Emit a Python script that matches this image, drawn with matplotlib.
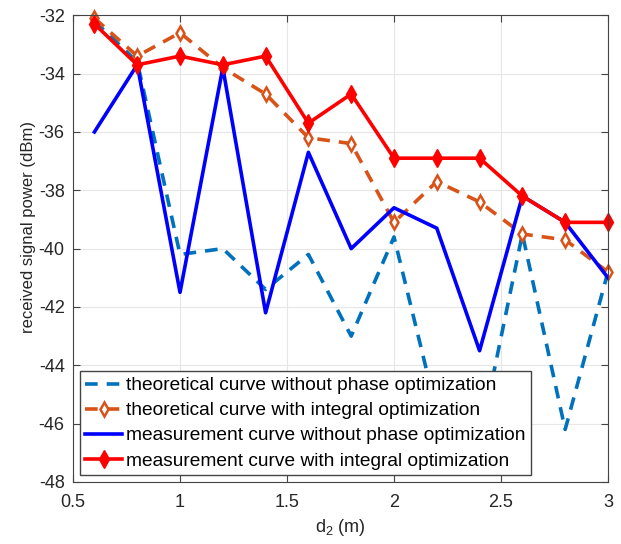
import matplotlib
matplotlib.use('Agg')
import matplotlib.pyplot as plt

plt.rcParams['font.family'] = ['Liberation Sans', 'DejaVu Sans']
plt.rcParams['axes.unicode_minus'] = False

# distance d2 (m)
d2 = [0.6, 0.8, 1.0, 1.2, 1.4, 1.6, 1.8, 2.0, 2.2, 2.4, 2.6, 2.8, 3.0]

# received signal power (dBm)
theo_no_opt = [-32.2, -33.6, -40.2, -40.0, -41.4, -40.2, -43.0, -39.6, -45.6, -46.6, -39.5, -46.2, -40.8]
theo_integral = [-32.1, -33.4, -32.6, -33.8, -34.7, -36.2, -36.4, -39.1, -37.7, -38.4, -39.5, -39.7, -40.8]
meas_no_opt = [-36.0, -33.7, -41.5, -33.8, -42.2, -36.7, -40.0, -38.6, -39.3, -43.5, -38.2, -39.1, -41.0]
meas_integral = [-32.3, -33.7, -33.4, -33.7, -33.4, -35.7, -34.7, -36.9, -36.9, -36.9, -38.2, -39.1, -39.1]

fig = plt.figure(figsize=(6.21, 5.44), dpi=100)
ax = fig.add_axes([0.1176, 0.114, 0.8614, 0.858])

lw = 2.6
ax.plot(d2, theo_no_opt, linestyle=(0, (3.5, 2.5)), color='#0072BD', linewidth=lw,
        label='theoretical curve without phase optimization')
ax.plot(d2, theo_integral, linestyle=(0, (3.5, 2.5)), color='#D95319', linewidth=lw,
        marker='d', markersize=7, markerfacecolor='white', markeredgewidth=1.8,
        clip_on=False, label='theoretical curve with integral optimization')
ax.plot(d2, meas_no_opt, linestyle='-', color='#0000FF', linewidth=lw,
        label='measurement curve without phase optimization')
ax.plot(d2, meas_integral, linestyle='-', color='#FF0000', linewidth=lw,
        marker='d', markersize=9, clip_on=False,
        label='measurement curve with integral optimization')

ax.set_xlim(0.5, 3)
ax.set_ylim(-48, -32)
ax.set_xticks([0.5, 1, 1.5, 2, 2.5, 3])
ax.set_xticklabels(['0.5', '1', '1.5', '2', '2.5', '3'])
ax.set_yticks(range(-48, -31, 2))
ax.grid(True, color='#e6e6e6', linewidth=0.8)
ax.set_axisbelow(True)
ax.tick_params(direction='in', labelsize=13, length=5, color='#444444',
               labelcolor='#262626', top=True, right=True)
ax.tick_params(axis='x', pad=9)
ax.tick_params(axis='y', pad=6)
for s in ax.spines.values():
    s.set_color('#444444')

ax.set_xlabel('d$_\\mathregular{2}$ (m)', fontsize=13, color='#262626', labelpad=4)
ax.set_ylabel('received signal power (dBm)', fontsize=12, color='#262626')
ax.yaxis.set_label_coords(-0.069, 0.546)

leg = ax.legend(loc='lower left', fontsize=13.8, fancybox=False, framealpha=1,
                edgecolor='#444444', handlelength=1.9, handletextpad=0.2,
                borderaxespad=0.35, labelspacing=0.4, borderpad=0.3)
leg.set_zorder(10)

fig.savefig('out.png', dpi=100)
